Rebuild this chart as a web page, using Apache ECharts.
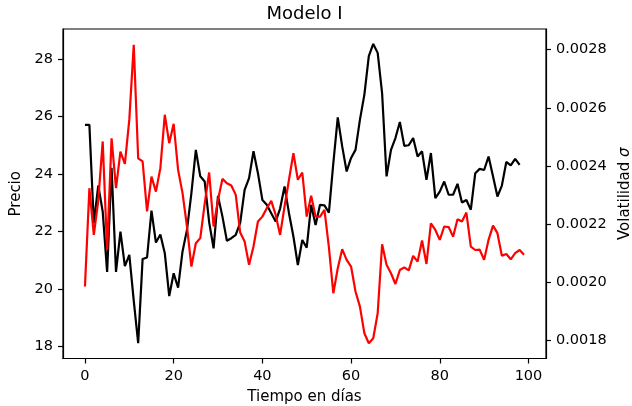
<!DOCTYPE html>
<html>
<head>
<meta charset="utf-8">
<script src="https://cdn.jsdelivr.net/npm/echarts@6/dist/echarts.min.js"></script>
<style>
  html, body { margin: 0; padding: 0; background: #fff; }
  #MyChart { width: 632px; height: 406px; }
</style>
</head>
<body>
<div id="MyChart"></div>
<script>
// precio (eje izquierdo), dias 0..98
const precio = [
  25.71, 25.71, 22.29, 23.60, 22.70, 20.60, 24.22, 20.60, 22.00, 20.80,
  21.19, 19.60, 18.12, 21.05, 21.10, 22.73, 21.62, 21.90, 21.25, 19.76,
  20.55, 20.05, 21.31, 22.06, 23.34, 24.84, 23.92, 23.74, 22.33, 21.42,
  23.24, 22.52, 21.68, 21.77, 21.89, 22.30, 23.45, 23.86, 24.79, 24.03,
  23.10, 22.93, 22.64, 22.35, 22.80, 23.57, 22.64, 21.83, 20.84, 21.71,
  21.44, 22.93, 22.23, 22.93, 22.91, 22.66, 24.38, 25.97, 24.96, 24.09,
  24.56, 24.84, 25.89, 26.76, 28.10, 28.52, 28.21, 26.80, 23.92, 24.84,
  25.25, 25.81, 24.98, 25.00, 25.25, 24.61, 24.79, 23.80, 24.73, 23.16,
  23.39, 23.74, 23.28, 23.28, 23.66, 23.01, 23.10, 22.76, 24.03, 24.18,
  24.14, 24.61, 23.92, 23.22, 23.60, 24.42, 24.30, 24.53, 24.32
];
// volatilidad (eje derecho), dias 0..99
const volatilidad = [
  0.001984, 0.002323, 0.002162, 0.002280, 0.002484, 0.002110, 0.002495, 0.002323, 0.002449, 0.002407,
  0.002559, 0.002817, 0.002426, 0.002415, 0.002243, 0.002363, 0.002311, 0.002392, 0.002576, 0.002478,
  0.002545, 0.002386, 0.002306, 0.002191, 0.002053, 0.002133, 0.002151, 0.002270, 0.002377, 0.002191,
  0.002283, 0.002355, 0.002340, 0.002332, 0.002300, 0.002170, 0.002139, 0.002059, 0.002122, 0.002208,
  0.002225, 0.002254, 0.002279, 0.002231, 0.002162, 0.002260, 0.002352, 0.002444, 0.002352, 0.002377,
  0.002225, 0.002297, 0.002225, 0.002225, 0.002248, 0.002120, 0.001961, 0.002047, 0.002113, 0.002076,
  0.002053, 0.001967, 0.001915, 0.001823, 0.001789, 0.001806, 0.001892, 0.002130, 0.002059, 0.002030,
  0.001993, 0.002041, 0.002050, 0.002040, 0.002090, 0.002070, 0.002143, 0.002062, 0.002202, 0.002179,
  0.002145, 0.002191, 0.002189, 0.002156, 0.002216, 0.002208, 0.002239, 0.002122, 0.002110, 0.002111,
  0.002076, 0.002145, 0.002194, 0.002168, 0.002090, 0.002096, 0.002078, 0.002099, 0.002110, 0.002094
];
const xTicks = [0, 20, 40, 60, 80, 100];
const precioTicks = [18, 20, 22, 24, 26, 28];
const volTicks = [0.0018, 0.0020, 0.0022, 0.0024, 0.0026, 0.0028];

const fuente = 'DejaVu Sans';
const chart = echarts.init(document.getElementById('MyChart'));

const ejeBase = {
  axisLine: { show: true, onZero: false, lineStyle: { color: '#000', width: 1.2 } },
  axisTick: { show: true, inside: false, length: 5, lineStyle: { color: '#000', width: 1.2 } },
  axisLabel: { color: '#000', fontFamily: fuente, fontSize: 14.5, margin: 10 },
  splitLine: { show: false },
  nameTextStyle: { color: '#000', fontFamily: fuente, fontSize: 15 }
};

const option = {
  animation: false,
  backgroundColor: '#fff',
  title: {
    text: 'Modelo I',
    left: 304.5,
    textAlign: 'center',
    top: 5,
    padding: 0,
    textStyle: { color: '#000', fontFamily: fuente, fontSize: 18, fontWeight: 'normal' }
  },
  grid: {
    left: 63, right: 86, top: 29, bottom: 47.5,
    outerBoundsMode: 'none',
    containLabel: false,
    show: true, borderColor: '#000', borderWidth: 1.2, backgroundColor: 'transparent'
  },
  xAxis: Object.assign({}, ejeBase, {
    type: 'value',
    min: -4.95,
    max: 103.95,
    name: 'Tiempo en días',
    nameLocation: 'middle',
    nameGap: 31,
    axisTick: Object.assign({}, ejeBase.axisTick, { customValues: xTicks }),
    axisLabel: Object.assign({}, ejeBase.axisLabel, { customValues: xTicks })
  }),
  yAxis: [
    Object.assign({}, ejeBase, {
      type: 'value',
      position: 'left',
      min: 17.59,
      max: 29.04,
      name: 'Precio',
      nameLocation: 'middle',
      nameRotate: 90,
      nameGap: 32,
      axisTick: Object.assign({}, ejeBase.axisTick, { customValues: precioTicks }),
      axisLabel: Object.assign({}, ejeBase.axisLabel, { customValues: precioTicks })
    }),
    Object.assign({}, ejeBase, {
      type: 'value',
      position: 'right',
      min: 0.0017362,
      max: 0.0028714,
      name: 'Volatilidad {s|σ}',
      nameLocation: 'middle',
      nameRotate: 90,
      nameGap: 63,
      nameTextStyle: Object.assign({}, ejeBase.nameTextStyle, {
        rich: { s: { fontFamily: fuente, fontSize: 15, fontStyle: 'italic', color: '#000' } }
      }),
      axisTick: Object.assign({}, ejeBase.axisTick, { customValues: volTicks }),
      axisLabel: Object.assign({}, ejeBase.axisLabel, {
        customValues: volTicks,
        formatter: function (v) { return v.toFixed(4); }
      })
    })
  ],
  series: [
    {
      name: 'Precio',
      type: 'line',
      yAxisIndex: 0,
      data: precio.map(function (v, i) { return [i, v]; }),
      showSymbol: false,
      lineStyle: { color: '#000', width: 2.2 },
      z: 3
    },
    {
      name: 'Volatilidad',
      type: 'line',
      yAxisIndex: 1,
      data: volatilidad.map(function (v, i) { return [i, v]; }),
      showSymbol: false,
      lineStyle: { color: '#ff0000', width: 2.2 },
      z: 4
    }
  ]
};
chart.setOption(option);
</script>
</body>
</html>
